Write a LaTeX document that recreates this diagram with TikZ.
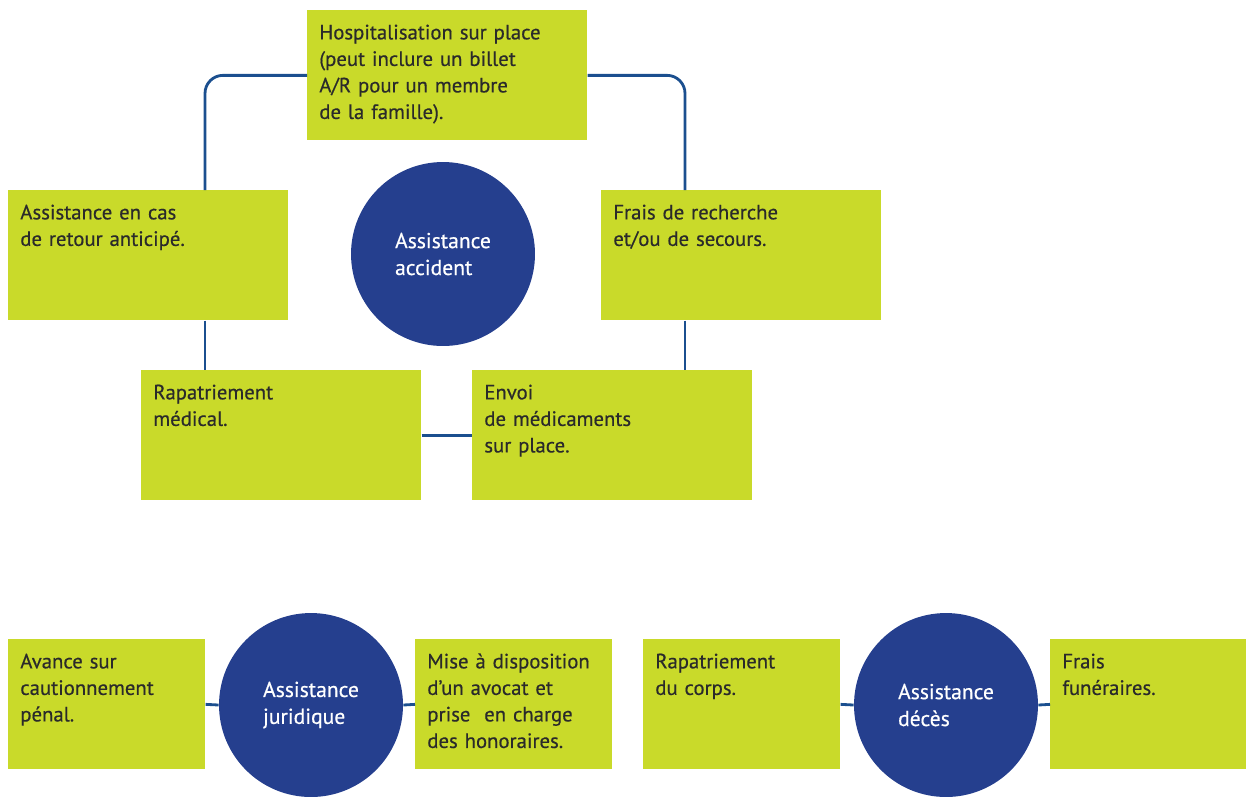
\documentclass[tikz,border=0pt]{standalone}
\usepackage{fontspec}
\setmainfont{PT Sans}[FakeBold=0.5]
\usepackage{tikz}
\usetikzlibrary{
  calc,
  positioning
}
\definecolor{aideGreen}{HTML}{C9DA2A}
\definecolor{aideNavy}{HTML}{253F8E}
\definecolor{aideLine}{HTML}{1B4F8F}
\definecolor{aideText}{HTML}{2A2A2A}
\tikzset{
  aideBox/.style={
    fill=aideGreen,
    text=aideText,
    anchor=north west,
    align=left,
    font=\fontsize{11.8}{15.1}\selectfont,
    inner xsep=12*0.02cm,
    inner ysep=0pt,
    text height=0.58cm,
    text depth=2.02cm
  },
  wideBox/.style={aideBox, text width=5.6cm-24*0.02cm},
  narrowBox/.style={aideBox, text width=3.94cm-24*0.02cm},
  aideCircle/.style={
    circle,
    fill=aideNavy,
    text=white,
    align=left,
    font=\fontsize{12.3}{15.3}\selectfont,
    minimum size=3.68cm,
    inner sep=0pt
  },
  aideLink/.style={draw=aideLine, line width=1.6pt}
}

\begin{document}
\begin{tikzpicture}[x=0.02cm,y=-0.02cm]
  \useasboundingbox (0,0) rectangle (1246,796);

  % accident cluster
  \node[wideBox] (hosp) at (307,10)
    {Hospitalisation sur place\\
    (peut inclure un billet\\
    A/R pour un membre\\
    de la famille).};
  \node[wideBox] (retour) at (8,190) {Assistance en cas\\de retour anticipé.};
  \node[wideBox] (frais) at (601,190) {Frais de recherche\\et/ou de secours.};
  \node[wideBox] (rapat) at (141,370) {Rapatriement\\médical.};
  \node[wideBox] (envoi) at (472,370) {Envoi\\de médicaments\\sur place.};
  \node[aideCircle] (accident) at (443,254) {Assistance\\accident};

  \coordinate (lk) at (205,190);
  \coordinate (rk) at (685,190);
  \draw[aideLink, rounded corners=18*0.02cm] (hosp.west) -| (lk);
  \draw[aideLink, rounded corners=18*0.02cm] (hosp.east) -| (rk);
  \draw[aideLink] (retour.south -| lk) -- (rapat.north -| lk);
  \draw[aideLink] (frais.south -| rk) -- (envoi.north -| rk);
  \draw[aideLink] (rapat.east) -- (envoi.west);

  % juridique / deces
  \node[narrowBox] (avance) at (8,639) {Avance sur\\cautionnement\\pénal.};
  \node[narrowBox] (avocat) at (415,639)
    {Mise à disposition\\d’un avocat et\\prise\ \ en charge\\des honoraires.};
  \node[aideCircle] (juridique) at (311,705) {Assistance\\juridique};

  \node[narrowBox] (corps) at (643,639) {Rapatriement\\du corps.};
  \node[narrowBox] (funer) at (1050,639) {Frais\\funéraires.};
  \node[aideCircle] (deces) at (946,705) {Assistance\\décès};

  \draw[aideLink] (avance.east) -- (juridique.west);
  \draw[aideLink] (juridique.east) -- (avocat.west);
  \draw[aideLink] (corps.east) -- (deces.west);
  \draw[aideLink] (deces.east) -- (funer.west);
\end{tikzpicture}
\end{document}
